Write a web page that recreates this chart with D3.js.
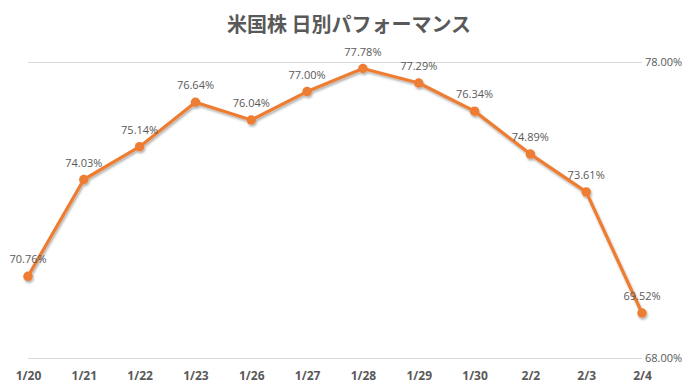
<!DOCTYPE html>
<html>
<head>
<meta charset="utf-8">
<script src="https://cdn.jsdelivr.net/npm/d3@7"></script>
<style>
  body { margin: 0; background: #fff; }
  text { font-family: "Open Sans", "Noto Sans", sans-serif; }
</style>
</head>
<body>
<script>
var dates = ['1/20','1/21','1/22','1/23','1/26','1/27','1/28','1/29','1/30','2/2','2/3','2/4'];
var perf = [70.76, 74.03, 75.14, 76.64, 76.04, 77.00, 77.78, 77.29, 76.34, 74.89, 73.61, 69.52];
var yTicks = [68, 78];

var W = 698, H = 392;
var margin = {left: 28, right: 56, top: 62, bottom: 34};

var svg = d3.select("body").append("svg").attr("width", W).attr("height", H);

// schatten unter der linie
var defs = svg.append("defs");
defs.append("filter").attr("id", "shadow")
    .attr("x", "-10%").attr("y", "-10%").attr("width", "120%").attr("height", "130%")
  .append("feDropShadow")
    .attr("dx", 1).attr("dy", 2).attr("stdDeviation", 1.2)
    .attr("flood-color", "#000").attr("flood-opacity", 0.3);

var x = d3.scalePoint().domain(dates).range([margin.left, W - margin.right]);
var y = d3.scaleLinear().domain([68, 78]).range([H - margin.bottom, margin.top]);

// titel
svg.append("text")
    .attr("x", W / 2).attr("y", 32)
    .attr("text-anchor", "middle")
    .style("font-family", "'Noto Sans CJK JP', sans-serif")
    .style("font-size", "20px").style("font-weight", "bold")
    .attr("fill", "#595959")
    .text("米国株 日別パフォーマンス");

// gitterlinien + rechte achse
var yAxis = d3.axisRight(y).tickValues(yTicks).tickSize(-(W - margin.left - margin.right))
    .tickFormat(function(d){ return d.toFixed(2) + "%"; });
var gy = svg.append("g")
    .attr("transform", "translate(" + (W - margin.right) + ",0)")
    .call(yAxis);
gy.select(".domain").remove();
gy.selectAll("line").attr("stroke", "#d9d9d9");
gy.selectAll("text").attr("x", 3).attr("fill", "#595959").style("font-size", "11px");

// x achse
var gx = svg.append("g")
    .attr("transform", "translate(0," + (H - margin.bottom) + ")")
    .call(d3.axisBottom(x).tickSize(0).tickPadding(13));
gx.select(".domain").remove();
gx.selectAll("text").attr("fill", "#595959")
    .style("font-size", "12px").style("font-weight", "bold");

var line = d3.line()
    .x(function(d, i){ return x(dates[i]); })
    .y(function(d){ return y(d); });

var series = svg.append("g").attr("filter", "url(#shadow)");
series.append("path")
    .datum(perf)
    .attr("d", line)
    .attr("fill", "none")
    .attr("stroke", "#ED7D31")
    .attr("stroke-width", 3.25)
    .attr("stroke-linejoin", "round");

series.selectAll("circle")
    .data(perf)
    .enter().append("circle")
    .attr("cx", function(d, i){ return x(dates[i]); })
    .attr("cy", function(d){ return y(d); })
    .attr("r", 4.75)
    .attr("fill", "#ED7D31");

// datenbeschriftung
svg.selectAll(".lbl")
    .data(perf)
    .enter().append("text")
    .attr("class", "lbl")
    .attr("x", function(d, i){ return x(dates[i]); })
    .attr("y", function(d){ return y(d) - 13; })
    .attr("text-anchor", "middle")
    .attr("fill", "#595959")
    .style("font-size", "11px")
    .text(function(d){ return d.toFixed(2) + "%"; });
</script>
</body>
</html>
